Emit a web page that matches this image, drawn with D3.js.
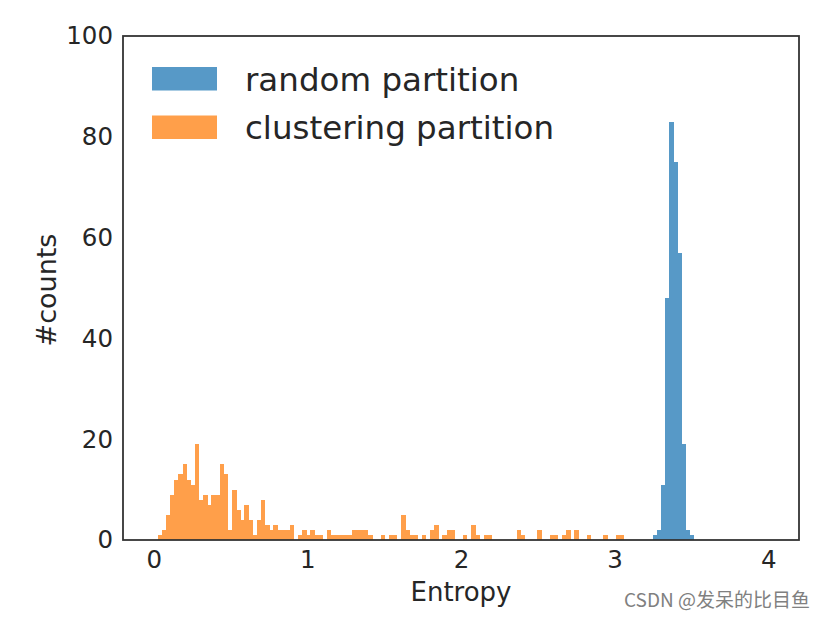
<!DOCTYPE html>
<html lang="en">
<head>
    <meta charset="UTF-8">
    <title>Entropy histogram</title>
    <script src="https://d3js.org/d3.v7.min.js"></script>
    <style>
        body {
            margin: 0;
            background: #fff;
        }
        text {
            font-family: "DejaVu Sans", sans-serif;
            fill: #262626;
        }
        .watermark {
            font-family: "Noto Sans CJK SC", sans-serif;
            fill: #808080;
        }
    </style>
</head>
<body>
    <script>
        // histogram bins: np.linspace(0, 4, 150)
        const binWidth = 4 / 149;

        // clustering partition counts, starting at bin 1
        const clusterStartBin = 1;
        const clusterCounts = [
            1, 2, 5, 9, 12, 13, 15, 12, 11, 19,
            8, 9, 7, 9, 9, 15, 13, 2, 10, 6,
            4, 7, 4, 1, 4, 8, 3, 2, 3, 2,
            2, 2, 3, 0, 1, 2, 1, 2, 1, 1,
            0, 2, 1, 1, 1, 1, 1, 2, 2, 2,
            2, 1, 0, 0, 1, 0, 1, 1, 0, 5,
            2, 1, 1, 0, 1, 0, 2, 3, 0, 1,
            2, 2, 0, 0, 1, 0, 3, 1, 0, 1,
            1, 0, 0, 0, 0, 0, 0, 2, 1, 0,
            0, 0, 2, 0, 0, 1, 1, 0, 1, 2,
            0, 2, 0, 0, 1, 0, 0, 0, 1, 0,
            0, 1, 1
        ];

        // random partition counts, starting at bin 121
        const randomStartBin = 121;
        const randomCounts = [1, 2, 11, 48, 83, 75, 57, 19, 2, 1];

        const xTicks = [0, 1, 2, 3, 4];
        const yTicks = [0, 20, 40, 60, 80, 100];
        const legendLabels = ["random partition", "clustering partition"];
        const colors = ["#5799c7", "#ff9f4a"];

        const width = 839, height = 618;
        const margin = {top: 36, right: 40, bottom: 78, left: 123};

        const svg = d3.select("body").append("svg")
            .attr("width", width)
            .attr("height", height);

        const x = d3.scaleLinear()
            .domain([-0.2, 4.2])
            .range([margin.left, width - margin.right]);

        const y = d3.scaleLinear()
            .domain([0, 100])
            .range([height - margin.bottom, margin.top]);

        function toBins(counts, start) {
            return counts.map((c, i) => ({
                x0: (start + i) * binWidth,
                x1: (start + i + 1) * binWidth,
                count: c
            })).filter(d => d.count > 0);
        }

        const series = [
            {name: legendLabels[0], bins: toBins(randomCounts, randomStartBin), color: colors[0]},
            {name: legendLabels[1], bins: toBins(clusterCounts, clusterStartBin), color: colors[1]}
        ];

        series.forEach(s => {
            svg.append("g")
                .attr("fill", s.color)
                .attr("shape-rendering", "crispEdges")
                .selectAll("rect")
                .data(s.bins)
                .enter().append("rect")
                .attr("x", d => x(d.x0))
                .attr("width", d => x(d.x1) - x(d.x0) + 0.3)
                .attr("y", d => y(d.count))
                .attr("height", d => y(0) - y(d.count));
        });

        // axes, no tick marks
        const xAxis = svg.append("g")
            .attr("transform", `translate(0,${y(0)})`)
            .call(d3.axisBottom(x).tickValues(xTicks).tickFormat(d3.format("d")).tickSize(0).tickPadding(11));

        const yAxis = svg.append("g")
            .attr("transform", `translate(${x.range()[0]},0)`)
            .call(d3.axisLeft(y).tickValues(yTicks).tickSize(0).tickPadding(10));

        [xAxis, yAxis].forEach(g => {
            g.select(".domain").remove();
            g.selectAll("text")
                .style("font-family", "DejaVu Sans, sans-serif")
                .style("font-size", "24.5px")
                .attr("fill", "#262626");
        });

        // frame
        svg.append("rect")
            .attr("x", x.range()[0])
            .attr("y", y.range()[1])
            .attr("width", x.range()[1] - x.range()[0])
            .attr("height", y.range()[0] - y.range()[1])
            .attr("fill", "none")
            .attr("stroke", "#333")
            .attr("stroke-width", 1.8);

        svg.append("text")
            .attr("x", (x.range()[0] + x.range()[1]) / 2)
            .attr("y", 601)
            .attr("text-anchor", "middle")
            .style("font-size", "26px")
            .text("Entropy");

        svg.append("text")
            .attr("transform", `translate(56,${(y.range()[0] + y.range()[1]) / 2 + 2}) rotate(-90)`)
            .attr("text-anchor", "middle")
            .style("font-size", "27px")
            .text("#counts");

        // legend
        const legend = svg.append("g")
            .selectAll("g")
            .data(series)
            .enter().append("g")
            .attr("transform", (d, i) => `translate(152,${67 + i * 48.5})`);

        legend.append("rect")
            .attr("width", 65)
            .attr("height", 23.5)
            .attr("fill", d => d.color);

        legend.append("text")
            .attr("x", 93)
            .attr("y", 23.5)
            .style("font-size", "32.5px")
            .text(d => d.name);

        svg.append("text")
            .attr("class", "watermark")
            .attr("x", 624)
            .attr("y", 607)
            .style("font-size", "19px")
            .text("CSDN @发呆的比目鱼");
    </script>
</body>
</html>
